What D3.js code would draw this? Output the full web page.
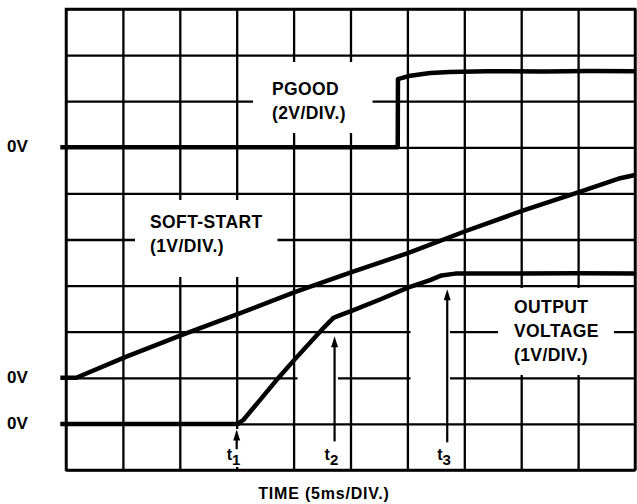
<!DOCTYPE html>
<html>
<head>
<meta charset="utf-8">
<script src="https://cdn.jsdelivr.net/npm/d3@7"></script>
<style>
    body { margin: 0; background: #fff; }
    text { font-family: "Liberation Sans", Arial, Helvetica, sans-serif; font-weight: bold; fill: #000; }
</style>
</head>
<body>
<div id="scope"></div>
<script>
// scope settings
const ms_per_div = 5;
const n_div = 10;

// PGOOD trace (2V/DIV.), 0V at division 7
const pgood_ms = [-0.5, 29.15, 29.17, 30.1, 32.0, 33.7, 37, 42, 46, 50];
const pgood_v  = [0, 0, 2.96, 3.09, 3.22, 3.27, 3.30, 3.29, 3.31, 3.30];

// SOFT-START trace (1V/DIV.), 0V at division 2
const ss_ms = [-0.5, 0.9, 5.2, 10.2, 15.2, 20.1, 25.1, 30.1, 35.2, 40.2, 45.2, 48.7, 50];
const ss_v  = [0, 0, 0.45, 0.93, 1.39, 1.86, 2.29, 2.71, 3.19, 3.63, 4.04, 4.33, 4.40];

// OUTPUT VOLTAGE trace (1V/DIV.), 0V at division 1
const out_ms = [-0.5, 15.1, 15.6, 18.5, 20.1, 22.5, 23.5, 24.1, 25.1, 27.7, 30.1, 32.0, 33.0, 34.2, 40, 45, 50];
const out_v  = [0, 0, 0.09, 0.95, 1.40, 2.05, 2.30, 2.36, 2.45, 2.71, 2.96, 3.12, 3.22, 3.26, 3.26, 3.27, 3.26];

const trace_names = ["PGOOD", "SOFT-START", "OUTPUT VOLTAGE"];
const trace_v_per_div = [2, 1, 1];
const trace_zero_div = [7, 2, 1];

// timing markers t1, t2, t3
const marker_names = ["1", "2", "3"];
const marker_ms = [15.0, 23.6, 33.5];

const width = 637, height = 504;
const plot = {left: 66, right: 635, top: 9, bottom: 470};

let svg = d3.select("#scope").append("svg")
    .attr("width", width)
    .attr("height", height);

let x = d3.scaleLinear()
    .domain([0, ms_per_div * n_div])
    .range([plot.left, plot.right]);

let y = d3.scaleLinear()
    .domain([0, n_div])
    .range([plot.bottom, plot.top]);

// graticule
svg.append("g")
    .attr("transform", "translate(0," + plot.bottom + ")")
    .call(d3.axisBottom(x).ticks(n_div).tickSize(-(plot.bottom - plot.top)).tickFormat(""))
    .call(g => g.select(".domain").remove())
    .selectAll("line")
    .attr("stroke", "#000")
    .attr("stroke-width", 2.3);

svg.append("g")
    .attr("transform", "translate(" + plot.left + ",0)")
    .call(d3.axisLeft(y).ticks(n_div).tickSize(-(plot.right - plot.left)).tickFormat(""))
    .call(g => g.select(".domain").remove())
    .selectAll("line")
    .attr("stroke", "#000")
    .attr("stroke-width", 2.3);

svg.append("rect")
    .attr("x", plot.left).attr("y", plot.top)
    .attr("width", plot.right - plot.left)
    .attr("height", plot.bottom - plot.top)
    .attr("fill", "none")
    .attr("stroke", "#000")
    .attr("stroke-width", 2.5);

// white boxes behind the labels (they cut the grid)
let label_boxes = [
    [253, 62, 372.5, 133],
    [135, 200, 277.5, 277],
    [498, 288, 614, 375],
    [410.5, 295, 450, 400],
    [297.5, 362, 338, 400],
    [225, 429, 243, 467]
];
svg.append("g").selectAll("rect")
    .data(label_boxes)
    .enter().append("rect")
    .attr("x", d => d[0]).attr("y", d => d[1])
    .attr("width", d => d[2] - d[0]).attr("height", d => d[3] - d[1])
    .attr("fill", "#fff");

// traces
let traces = [
    {ms: pgood_ms, v: pgood_v},
    {ms: ss_ms, v: ss_v},
    {ms: out_ms, v: out_v}
].map(function(t, i) {
    return t.ms.map((m, j) => ({ms: m, div: trace_zero_div[i] + t.v[j] / trace_v_per_div[i]}));
});

let line = d3.line()
    .x(d => x(d.ms))
    .y(d => y(d.div));

svg.append("g").selectAll("path")
    .data(traces)
    .enter().append("path")
    .attr("d", line)
    .attr("fill", "none")
    .attr("stroke", "#000")
    .attr("stroke-width", 4.5)
    .attr("stroke-linejoin", "round");

// 0V ground markers
svg.append("g").selectAll("text")
    .data(trace_zero_div)
    .enter().append("text")
    .attr("x", 7)
    .attr("y", d => y(d) - 1)
    .attr("dy", "0.36em")
    .style("font-size", "17px")
    .text("0V");

// trace labels
let label_lines = [
    {x: 272, y: 94.5, lines: ["PGOOD", "(2V/DIV.)"]},
    {x: 150, y: 227.5, lines: ["SOFT-START", "(1V/DIV.)"]},
    {x: 514, y: 313, lines: ["OUTPUT", "VOLTAGE", "(1V/DIV.)"]}
];
label_lines.forEach(function(l) {
    let t = svg.append("text")
        .attr("x", l.x).attr("y", l.y)
        .style("font-size", "17.5px")
        .style("letter-spacing", "0.4px");
    l.lines.forEach(function(s, i) {
        t.append("tspan").attr("x", l.x).attr("dy", i == 0 ? 0 : 24).text(s);
    });
});

// marker arrows
let marker_tip_div = [0.88, 2.9, 3.92];
let marker_base_div = [0.45, 0.62, 0.6];
let markers = svg.append("g").selectAll("g")
    .data(marker_names)
    .enter().append("g");

markers.append("line")
    .attr("x1", (d, i) => x(marker_ms[i]))
    .attr("x2", (d, i) => x(marker_ms[i]))
    .attr("y1", (d, i) => y(marker_base_div[i]))
    .attr("y2", (d, i) => y(marker_tip_div[i]) + 6)
    .attr("stroke", "#000")
    .attr("stroke-width", 2.2);

markers.append("path")
    .attr("d", function(d, i) {
        let px = x(marker_ms[i]), py = y(marker_tip_div[i]);
        return "M" + px + "," + py + "L" + (px - 3.5) + "," + (py + 11) + "L" + (px + 3.5) + "," + (py + 11) + "Z";
    })
    .attr("fill", "#000");

let tlabel = markers.append("text")
    .attr("x", (d, i) => x(marker_ms[i]) - 10)
    .attr("y", 459.5)
    .style("font-size", "16px");
tlabel.append("tspan").text("t");
tlabel.append("tspan")
    .attr("dy", 5)
    .style("font-size", "15px")
    .text(d => d);

// time axis title
svg.append("text")
    .attr("x", 324)
    .attr("y", 499)
    .attr("text-anchor", "middle")
    .style("font-size", "16px")
    .style("letter-spacing", "0.8px")
    .text("TIME (" + ms_per_div + "ms/DIV.)");
</script>
</body>
</html>
